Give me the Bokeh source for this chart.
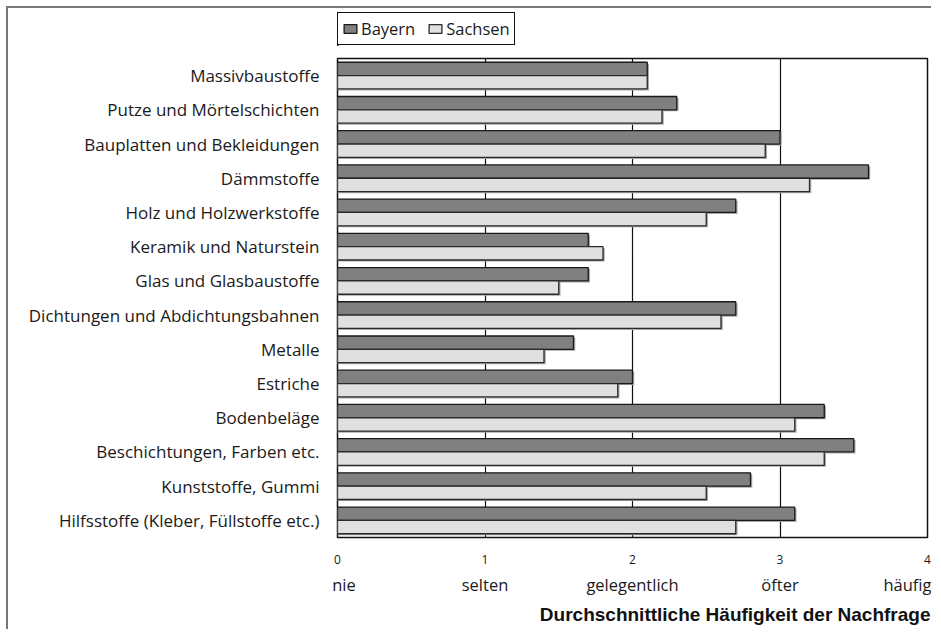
from bokeh.plotting import figure
from bokeh.layouts import column
from bokeh.models import (FactorRange, Range1d, Legend, LegendItem, Title,
                          FixedTicker, ColumnDataSource, LinearAxis)
from bokeh.transform import dodge
from bokeh.embed import file_html
from bokeh.resources import INLINE

categories = ["Massivbaustoffe", "Putze und Mörtelschichten",
              "Bauplatten und Bekleidungen", "Dämmstoffe",
              "Holz und Holzwerkstoffe", "Keramik und Naturstein",
              "Glas und Glasbaustoffe", "Dichtungen und Abdichtungsbahnen",
              "Metalle", "Estriche", "Bodenbeläge",
              "Beschichtungen, Farben etc.", "Kunststoffe, Gummi",
              "Hilfsstoffe (Kleber, Füllstoffe etc.)"]
bayern = [2.1, 2.3, 3.0, 3.6, 2.7, 1.7, 1.7, 2.7, 1.6, 2.0, 3.3, 3.5, 2.8, 3.1]
sachsen = [2.1, 2.2, 2.9, 3.2, 2.5, 1.8, 1.5, 2.6, 1.4, 1.9, 3.1, 3.3, 2.5, 2.7]
series_names = ["Bayern", "Sachsen"]
scale_ticks = [0, 1, 2, 3, 4]
scale_words = ["nie", "selten", "gelegentlich", "öfter", "häufig"]
x_title = "Durchschnittliche Häufigkeit der Nachfrage"

FONT = "Open Sans"
TXT = "#1a1a1a"
NB = "\u00a0"
BAY = dict(fill_color="#808080", line_color="#1a1a1a", line_width=1.3)
SAX = dict(fill_color="#e0e0e0", line_color="#2a2a2a", line_width=1.3)
SHADOW = dict(fill_color="#a8a8a8", line_color=None)

W = 923
H_LEG = 42
H_MAIN = 579
BAR_H = 0.39
OFF = 0.195

src = ColumnDataSource(dict(cat=categories, bayern=bayern, sachsen=sachsen))

# ---------------- main chart ----------------
p = figure(width=W, height=H_MAIN,
           y_range=FactorRange(factors=categories[::-1]),
           x_range=Range1d(0, 4),
           output_backend="svg", toolbar_location=None,
           min_border_left=329, min_border_right=4,
           min_border_top=8, min_border_bottom=92)

# soft drop shadows
p.hbar(y=dodge("cat", OFF - 0.045, range=p.y_range), right=dodge("bayern", 0.012),
       left=0, height=BAR_H, source=src, **SHADOW)
p.hbar(y=dodge("cat", -OFF - 0.045, range=p.y_range), right=dodge("sachsen", 0.012),
       left=0, height=BAR_H, source=src, **SHADOW)
# bars
p.hbar(y=dodge("cat", OFF, range=p.y_range), right="bayern", left=0,
       height=BAR_H, source=src, **BAY)
p.hbar(y=dodge("cat", -OFF, range=p.y_range), right="sachsen", left=0,
       height=BAR_H, source=src, **SAX)

p.outline_line_color = "#111111"
p.outline_line_width = 1.5
p.background_fill_color = "white"
p.border_fill_color = "white"

xa = p.xaxis[0]
xa.ticker = FixedTicker(ticks=scale_ticks)
xa.axis_line_color = None
xa.major_tick_line_color = None
xa.minor_tick_line_color = None
xa.major_label_text_font = FONT
xa.major_label_text_font_size = "12px"
xa.major_label_text_color = TXT
xa.major_label_standoff = 11

# second row of tick labels: verbal scale
word_labels = {}
for t, w in zip(scale_ticks, scale_words):
    word_labels[t] = w
word_labels[scale_ticks[0]] = NB * 3 + scale_words[0]
wa = LinearAxis(ticker=FixedTicker(ticks=scale_ticks),
                major_label_overrides=word_labels,
                axis_line_color=None, major_tick_line_color=None,
                minor_tick_line_color=None, major_label_standoff=0,
                major_label_text_font=FONT, major_label_text_font_size="16.5px",
                major_label_text_color=TXT)
p.add_layout(wa, "below")

p.add_layout(Title(text=x_title, align="right", text_font="Liberation Sans",
                   text_font_style="bold", text_font_size="19px",
                   text_color="#111111", standoff=6, offset=-3), "below")

ya = p.yaxis[0]
ya.axis_line_color = None
ya.major_tick_line_color = None
ya.minor_tick_line_color = None
ya.major_label_text_font = FONT
ya.major_label_text_font_size = "17px"
ya.major_label_text_color = TXT
ya.major_label_standoff = 12

p.xgrid.grid_line_color = "#111111"
p.xgrid.grid_line_width = 1.2
p.xgrid.grid_line_alpha = 1
p.ygrid.grid_line_color = None

# ---------------- legend strip ----------------
# the legend renderers carry the series data, but the strip's ranges keep
# their bars out of view so that only the legend swatches are shown
lg = figure(width=W, height=H_LEG, x_range=Range1d(100, 101),
            y_range=Range1d(100, 101),
            output_backend="svg", toolbar_location=None,
            x_axis_location=None, y_axis_location=None,
            min_border_left=327, min_border_right=0, min_border_top=0,
            min_border_bottom=5)
lg.outline_line_color = None
lg.grid.grid_line_color = None
lg.background_fill_color = "white"
lg.border_fill_color = "white"
l1 = lg.hbar(y="bayern", right="bayern", left=0, height=0.3, source=src, **BAY)
l2 = lg.hbar(y="sachsen", right="sachsen", left=0, height=0.3, source=src, **SAX)

legend = Legend(items=[LegendItem(label=series_names[0], renderers=[l1]),
                       LegendItem(label=series_names[1], renderers=[l2])],
                orientation="horizontal", location="bottom_left", margin=0,
                padding=4, spacing=12, glyph_width=16, glyph_height=11,
                label_standoff=3, border_line_color="#111111",
                border_line_width=1, border_line_alpha=1,
                label_text_font=FONT, label_text_font_size="16.5px",
                label_text_color=TXT, label_height=17,
                background_fill_color="white", background_fill_alpha=1)
lg.add_layout(legend)

page = column(lg, p, spacing=0)
page.styles = {"border-top": "2px solid #777777", "border-left": "2px solid #777777",
               "margin-top": "6px", "margin-left": "6px"}

open("out.html", "w").write(file_html(page, INLINE))
